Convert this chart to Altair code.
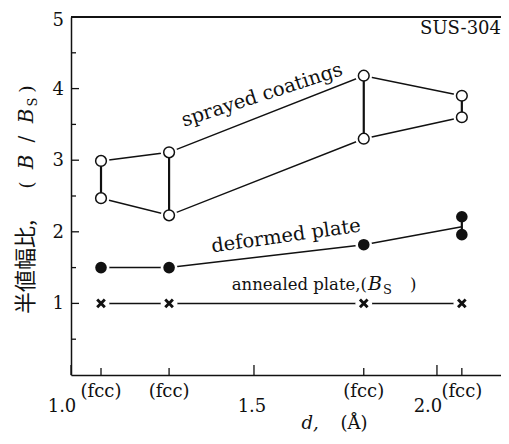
import altair as alt
import pandas as pd

# ---- data ----
d_fcc = [1.082, 1.268, 1.800, 2.068]          # d-spacings of the fcc reflections
fcc_labels = ["(fcc)", "(fcc)", "(fcc)", "(fcc)"]
sprayed_upper = [2.99, 3.11, 4.18, 3.90]
sprayed_lower = [2.47, 2.23, 3.30, 3.60]
deformed_line = [1.50, 1.50, 1.82, 2.07]
deformed_points = [1.50, 1.50, 1.82]
deformed_last_pair = [2.21, 1.96]
annealed = [1.0, 1.0, 1.0, 1.0]
x_major_ticks = [1.0, 1.5, 2.0]
x_major_labels = ["1.0", "1.5", "2.0"]
y_major_ticks = [1, 2, 3, 4]
y_minor_ticks = [0.5, 1.5, 2.5, 3.5, 4.5]
y_labels = [1, 2, 3, 4, 5]
y_label_text = ["1", "2", "3", "4", "5"]

SERIF = "DejaVu Serif"
CJK = "Noto Sans CJK JP"
INK = "#111111"
W, H = 430, 358

X_SCALE = alt.Scale(domain=[1.0, 2.175], nice=False, zero=False)
Y_SCALE = alt.Scale(domain=[0, 5], nice=False, zero=False)
X_AXIS = alt.Axis(labels=False, ticks=False, tickSize=0, title=None, grid=False,
                  domain=True, domainColor=INK, domainWidth=1.5)
Y_AXIS = alt.Axis(labels=False, ticks=False, tickSize=0, title=None,
                  grid=False, domain=True, domainColor=INK, domainWidth=1.5)


def X(f="x"):
    return alt.X(f"{f}:Q", scale=X_SCALE, axis=X_AXIS)


def Y(f="y"):
    return alt.Y(f"{f}:Q", scale=Y_SCALE, axis=Y_AXIS)


# ---- tables built from the arrays ----
rows = []
for name, ys in [("sprayed_upper", sprayed_upper), ("sprayed_lower", sprayed_lower),
                 ("deformed", deformed_line), ("annealed", annealed)]:
    for x, y in zip(d_fcc, ys):
        rows.append({"series": name, "x": x, "y": y})
lines_df = pd.DataFrame(rows)

open_df = pd.DataFrame({"x": d_fcc + d_fcc, "y": sprayed_upper + sprayed_lower})
filled_df = pd.DataFrame({"x": d_fcc[:3] + [d_fcc[3]] * 2,
                          "y": deformed_points + deformed_last_pair})
cross_df = pd.DataFrame({"x": d_fcc, "y": annealed})
halo_df = pd.concat([open_df, filled_df.iloc[:3], cross_df], ignore_index=True)

conn_df = pd.DataFrame({"x": d_fcc + [d_fcc[3]],
                        "y": sprayed_upper + [deformed_last_pair[0]],
                        "y2": sprayed_lower + [deformed_last_pair[1]]})

fcc_df = pd.DataFrame({"x": d_fcc, "label": fcc_labels})
major_df = pd.DataFrame({"x": x_major_ticks, "label": x_major_labels})
ymaj_df = pd.DataFrame({"y": y_major_ticks})
ymin_df = pd.DataFrame({"y": y_minor_ticks})
ylab_df = pd.DataFrame({"y": y_labels, "label": y_label_text})

# ---- layers ----
lines = alt.Chart(lines_df).mark_line(color=INK, strokeWidth=1.5).encode(
    x=X(), y=Y(), detail="series:N")
halos = alt.Chart(halo_df).mark_circle(color="white", opacity=1, size=280).encode(x=X(), y=Y())
conns = alt.Chart(conn_df).mark_rule(color=INK, strokeWidth=2.2).encode(
    x=X(), y=Y(), y2="y2:Q")
opens = alt.Chart(open_df).mark_point(shape="circle", filled=True, fill="white", stroke=INK,
                                      strokeWidth=1.5, size=115, opacity=1).encode(x=X(), y=Y())
fills = alt.Chart(filled_df).mark_circle(color=INK, size=135, opacity=1).encode(x=X(), y=Y())
crosses = alt.Chart(cross_df).mark_point(shape="M-1,-1L1,1M1,-1L-1,1", stroke=INK,
                                         strokeWidth=2.9, size=58, opacity=1).encode(x=X(), y=Y())

fcc_ticks = alt.Chart(fcc_df).mark_rule(color=INK, strokeWidth=1.3).encode(
    x=X(), y=alt.value(H), y2=alt.value(H - 7))
major_ticks = alt.Chart(major_df).mark_rule(color=INK, strokeWidth=1.3).encode(
    x=X(), y=alt.value(H), y2=alt.value(H - 10))
ymaj = alt.Chart(ymaj_df).mark_rule(color=INK, strokeWidth=1.3).encode(
    y=Y(), x=alt.value(0), x2=alt.value(8))
ymin = alt.Chart(ymin_df).mark_rule(color=INK, strokeWidth=1.3).encode(
    y=Y(), x=alt.value(0), x2=alt.value(5))
top_line = alt.Chart(major_df).mark_rule(color=INK, strokeWidth=1.5).encode(
    x=alt.value(0), x2=alt.value(W), y=alt.value(0))

ylab_low = alt.Chart(ylab_df.iloc[:4]).mark_text(font=SERIF, fontSize=18, color=INK,
                                                 align="right", baseline="middle", dy=1).encode(
    y=Y(), x=alt.value(-7), text="label:N")
ylab_top = alt.Chart(ylab_df.iloc[[4]]).mark_text(font=SERIF, fontSize=18, color=INK,
                                                  align="right", baseline="middle", dy=4).encode(
    y=Y(), x=alt.value(-7), text="label:N")

fcc_text = alt.Chart(fcc_df).mark_text(font=SERIF, fontSize=18, color=INK, baseline="middle").encode(
    x=X(), y=alt.value(H + 17), text="label:N")
major_15 = alt.Chart(major_df.iloc[[1]]).mark_text(font=SERIF, fontSize=18, color=INK,
                                                   baseline="middle", dx=-2).encode(
    x=X(), y=alt.value(H + 32), text="label:N")
major_side = alt.Chart(major_df.iloc[[0, 2]]).mark_text(font=SERIF, fontSize=18, color=INK,
                                                        baseline="middle", dx=-9).encode(
    x=X(), y=alt.value(H + 32), text="label:N")


def txt(text, x, y, size=18, font=SERIF, style="normal", align="center",
        baseline="middle", angle=0):
    kw = dict(text=text, font=font, fontSize=size, fontStyle=style, color=INK,
              align=align, baseline=baseline)
    if angle:
        kw["angle"] = angle
    return alt.Chart(major_df.iloc[[0]]).mark_text(**kw).encode(
        x=alt.value(x), y=alt.value(y))


annots = [
    txt("SUS-304", 430, 12, align="right"),
    txt("sprayed coatings", 191, 78, size=19.5, angle=342),
    txt("deformed plate", 215, 219, size=19.5, angle=352),
    txt("annealed plate,(", 296, 273, size=16.5, align="right", baseline="alphabetic"),
    txt("B", 297, 273, size=19, style="italic", align="left", baseline="alphabetic"),
    txt("S", 312, 277, size=13, align="left", baseline="alphabetic"),
    txt(")", 339, 273, size=16.5, align="left", baseline="alphabetic"),
    # y title, rotated
    txt("半値幅比,", -45, 250, size=22, font=CJK, angle=270),
    txt("(", -44, 168, size=19, angle=270),
    txt("B", -44, 145, size=20, style="italic", angle=270),
    txt("/", -44, 122, size=20, angle=270),
    txt("B", -44, 99, size=20, style="italic", angle=270),
    txt("S", -38, 85, size=13, angle=270),
    txt(")", -44, 72, size=19, angle=270),
    # x title
    txt("d,", 239, 412, style="italic", baseline="alphabetic"),
    txt("(Å)", 283, 412, baseline="alphabetic"),
]

chart = alt.layer(
    lines, halos, conns, opens, fills, crosses,
    fcc_ticks, major_ticks, ymaj, ymin, top_line,
    ylab_low, ylab_top, fcc_text, major_15, major_side, *annots
).properties(
    width=W, height=H,
    padding={"left": 63, "top": 9, "right": 0, "bottom": 61},
    autosize=alt.AutoSizeParams(type="none"),
    background="white",
).configure_view(stroke=None)

chart.save("out.html", embed_options={"renderer": "svg", "actions": False})
